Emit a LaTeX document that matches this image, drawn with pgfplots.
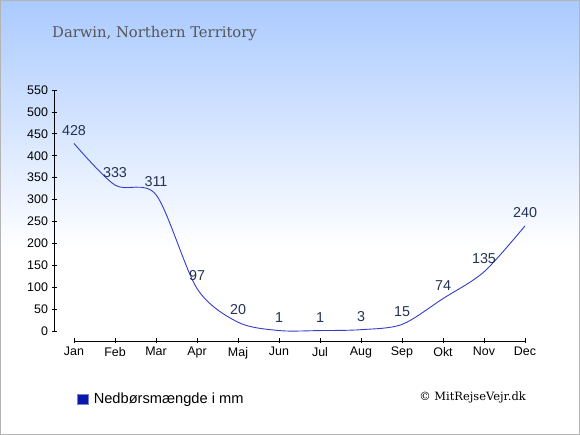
\documentclass[border=0pt]{standalone}
\usepackage{pgfplots}
\pgfplotsset{compat=1.18}
\usepackage{fontspec}
\setmainfont{Liberation Sans}
\newfontfamily\seriffont{DejaVu Serif}
\definecolor{bgtop}{RGB}{170,202,255}
\definecolor{linec}{RGB}{51,61,201}
\definecolor{labc}{RGB}{35,50,85}
\definecolor{legc}{RGB}{8,24,170}
\definecolor{titc}{RGB}{85,85,85}
\definecolor{framec}{RGB}{180,180,180}
\begin{document}
\begin{tikzpicture}[x=1bp,y=1bp]
\shade[top color=bgtop, bottom color=white] (0,185) rectangle (580,435);
\fill[white] (0,0) rectangle (580,185);
\draw[framec, line width=1bp] (0.5,0.5) rectangle (579.5,434.5);
\node[anchor=base west, font=\seriffont\fontsize{14.8}{17}\selectfont, text=titc, inner sep=0pt] at (52,397) {Darwin, Northern Territory};
\node[anchor=base east, font=\seriffont\fontsize{11.5}{13}\selectfont, text=black, inner sep=0pt] at (526,34) {© MitRejseVejr.dk};
\begin{axis}[
  x=41bp, y=0.43818bp, anchor=origin, at={(74bp,104bp)},
  xmin=0, xmax=11, ymin=0, ymax=550,
  axis x line*=bottom, axis y line*=left,
  axis x line shift=10bp, axis y line shift=20bp,
  xtick={0,...,11},
  xticklabels={Jan,Feb,Mar,Apr,Maj,Jun,Jul,Aug,Sep,Okt,Nov,Dec},
  ytick={0,50,...,550},
  tick label style={font=\fontsize{12.5}{14}\selectfont, text=black},
  /pgf/number format/assume math mode=true,
  tick align=center, major tick length=5bp,
  tick style={black, line width=0.8bp},
  axis line style={black, line width=0.8bp},
  clip=false,
  nodes near coords,
  every node near coord/.append style={font=\fontsize{14.4}{16}\selectfont, text=labc, anchor=center, yshift=13bp},
  legend style={at={(axis description cs:0.0,-0.282)}, anchor=west, draw=none, fill=none, font=\fontsize{14.7}{17}\selectfont},
  legend image code/.code={\fill[legc, draw={rgb,255:red,120;green,130;blue,210}, line width=0.6bp] (0bp,-5bp) rectangle (11bp,5bp);},
]
\addplot[linec, line width=0.9bp, smooth, tension=0.5] table {
x y
0 428
1 333
2 311
3 97
4 20
5 1
6 1
7 3
8 15
9 74
10 135
11 240
};
\addlegendentry{\hspace{3bp}Nedbørsmængde i mm}
\end{axis}
\end{tikzpicture}
\end{document}
